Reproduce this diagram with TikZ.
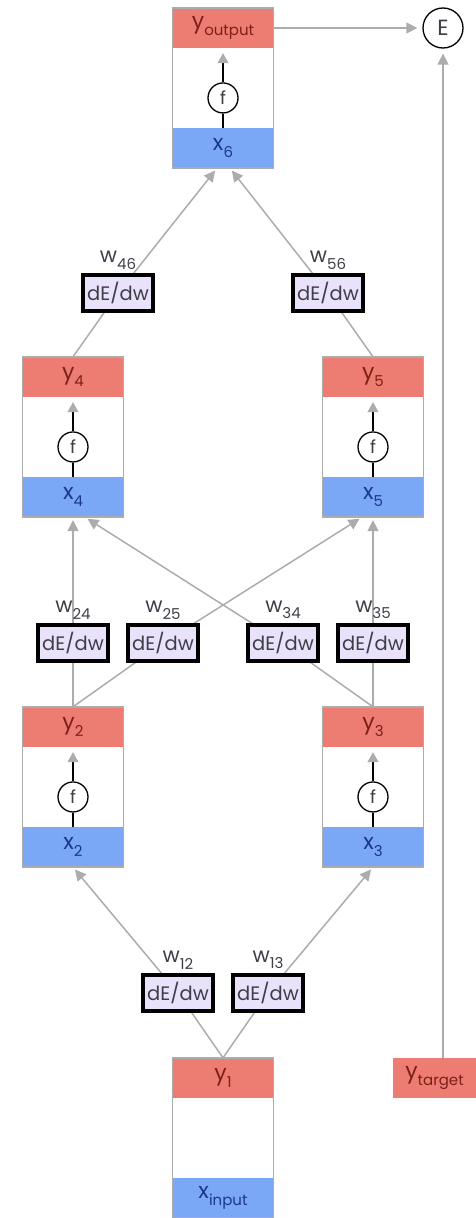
\documentclass[tikz,border=0pt]{standalone}
\usepackage{fontspec}
\setmainfont{Poppins}
\usetikzlibrary{arrows.meta,positioning,backgrounds,calc}
\definecolor{cellred}{RGB}{237,124,114}
\definecolor{cellblue}{RGB}{122,168,246}
\definecolor{gradfill}{RGB}{233,226,250}
\definecolor{linegray}{RGB}{172,172,172}
\definecolor{ytext}{RGB}{125,32,26}
\definecolor{xtext}{RGB}{28,56,140}
\definecolor{inkgray}{RGB}{62,62,72}
\newcommand{\idx}[1]{\raisebox{-0.6ex}{\fontsize{15}{15}\selectfont #1}}
\newcommand{\cell}[5]{% name, centre x, top y, y index, x index
  \node[band,fill=cellred,text=ytext] (y#1) at (#2,#3+20) {y\idx{#4}};
  \node[band,fill=cellblue,text=xtext] (x#1) at (#2,#3+140) {x\idx{#5}};
  \draw[linegray,line width=1.5pt] (y#1.north west) rectangle (x#1.south east);
}
\newcommand{\squash}[1]{%
  \node[fnode] (f#1) at ($(y#1.south)!0.625!(x#1.north)$) {f};
  \draw[line width=1.3pt] (x#1.north) -- (f#1.south);
  \draw[line width=1.3pt,-{Triangle[length=10pt,width=11pt,color=linegray]},shorten >=5pt]
    (f#1.north) -- (y#1.south);
}
\tikzset{
  band/.style={minimum width=101,minimum height=40,inner sep=0pt,
    font=\fontsize{22}{22}\selectfont},
  fnode/.style={circle,draw,line width=1.3pt,fill=white,minimum size=30,inner sep=0pt,
    text=inkgray,font=\fontsize{18}{18}\selectfont},
  grad/.style={draw=black,line width=3.5pt,fill=gradfill,minimum width=70,minimum height=36,
    inner sep=0pt,text=inkgray,font=\fontsize{19.5}{19.5}\selectfont},
  wlab/.style={inner sep=1pt,text=inkgray,font=\fontsize{21}{21}\selectfont},
  conn/.style={linegray,line width=1.5pt,-{Triangle[length=11pt,width=11pt]},shorten >=3pt},
}
\begin{document}
\begin{tikzpicture}[x=1pt,y=-1pt]
  \useasboundingbox (0,0) rectangle (476,1218);
  % cells
  \cell{6}{223}{8}{output}{6}
  \cell{4}{73}{357}{4}{4}
  \cell{5}{373}{357}{5}{5}
  \cell{2}{73}{707}{2}{2}
  \cell{3}{373}{707}{3}{3}
  \cell{1}{223}{1058}{1}{input}
  \foreach \n in {6,4,5,2,3} {\squash{\n}}
  \node[band,fill=cellred,text=ytext,minimum width=83] (yt) at (434.5,1078) {y\idx{target}};
  \node[circle,draw,line width=1.3pt,minimum size=40,inner sep=0pt,text=inkgray,
    font=\fontsize{22}{22}\selectfont] (E) at (443,28) {E};
  % gradient boxes
  \foreach \w/\cx/\cy in {46/118/293,56/328/293,24/73/643,25/163/643,
    34/283/643,35/373/643,12/178/993,13/268/993} {
    \node[grad] (d\w) at (\cx,\cy) {dE/dw};
    \node[wlab,above=3pt of d\w] (l\w) {w\idx{\w}};
  }
  % weights
  \begin{scope}[on background layer]
    \foreach \s/\w/\t/\dx in {1/12/2/0,1/13/3/0,2/24/4/0,2/25/5/-11,
      3/34/4/12,3/35/5/0,4/46/6/-6,5/56/6/7}
      \draw[conn] (y\s.north) -- (d\w.center) -- ([xshift=\dx pt]x\t.south);
  \end{scope}
  \draw[conn,shorten >=5pt] (y6.east) -- (E.west);
  \draw[conn,shorten >=5pt] (yt.north -| E.south) -- (E.south);
\end{tikzpicture}
\end{document}
